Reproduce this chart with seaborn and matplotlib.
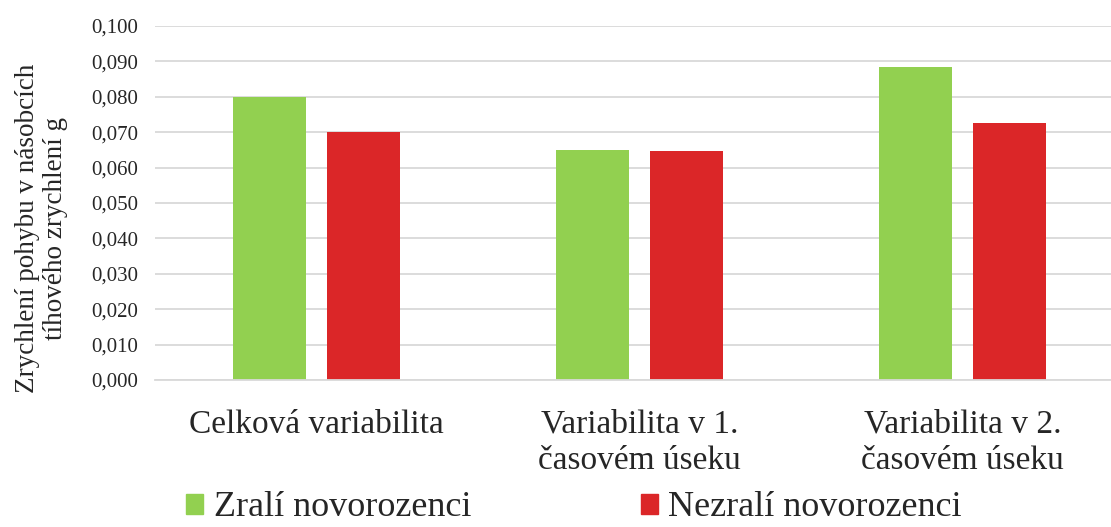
import pandas as pd
import numpy as np
import matplotlib
matplotlib.use("Agg")
import matplotlib.pyplot as plt
import seaborn as sns
from matplotlib.ticker import FuncFormatter

sns.set_style("white")
plt.rcParams["font.family"] = ["Liberation Serif", "DejaVu Serif"]

categories = ["Celková variabilita", "Variabilita v 1.\nčasovém úseku", "Variabilita v 2.\nčasovém úseku"]
series_names = ["Zralí novorozenci", "Nezralí novorozenci"]
zrali = [0.080, 0.065, 0.0884]
nezrali = [0.070, 0.0647, 0.0726]
colors = ["#92D050", "#DB2628"]

df = pd.DataFrame({
    "kategorie": categories * 2,
    "skupina": [series_names[0]] * 3 + [series_names[1]] * 3,
    "hodnota": zrali + nezrali,
})

fig = plt.figure(figsize=(11.11, 5.27), dpi=100)
ax = fig.add_axes([155 / 1111, 147 / 527, 969 / 1111, 354 / 527])

sns.barplot(data=df, x="kategorie", y="hodnota", hue="skupina",
            palette=colors, width=0.576, gap=0.215, ax=ax, legend=False,
            edgecolor="none", saturation=1)

ax.set_xlim(-0.5, 2.5)
ax.set_ylim(0, 0.100)
ax.set_yticks(np.arange(0, 0.1001, 0.010))
ax.yaxis.set_major_formatter(FuncFormatter(lambda v, p: f"{v:.3f}".replace(".", ",")))
ax.grid(axis="y", color="#d9d9d9", linewidth=1.3)
ax.set_axisbelow(True)
for s in ["top", "right", "left"]:
    ax.spines[s].set_visible(False)
ax.spines["bottom"].set_color("#d9d9d9")
ax.spines["bottom"].set_linewidth(1.3)

ax.tick_params(axis="y", length=0, pad=12, labelsize=15)
ax.tick_params(axis="x", length=0, pad=21, labelsize=24)
for lbl in ax.get_xticklabels():
    lbl.set_linespacing(1.25)
ax.set_xlabel("")
ax.set_ylabel("")

fig.text(0.037, 1 - 228 / 527, "Zrychlení pohybu v násobcích\ntíhového zrychlení g",
         rotation=90, ha="center", va="center", fontsize=19.5, linespacing=1.15)

handles = [plt.Rectangle((0, 0), 1, 1, color=c) for c in colors]
fig.legend(handles, series_names, loc="center", bbox_to_anchor=(574 / 1111, 1 - 508 / 527),
           ncol=2, frameon=False, fontsize=26, handlelength=0.47, handleheight=0.47,
           handletextpad=0.28, columnspacing=4.7, borderpad=0)

fig.savefig("out.png", dpi=100)
